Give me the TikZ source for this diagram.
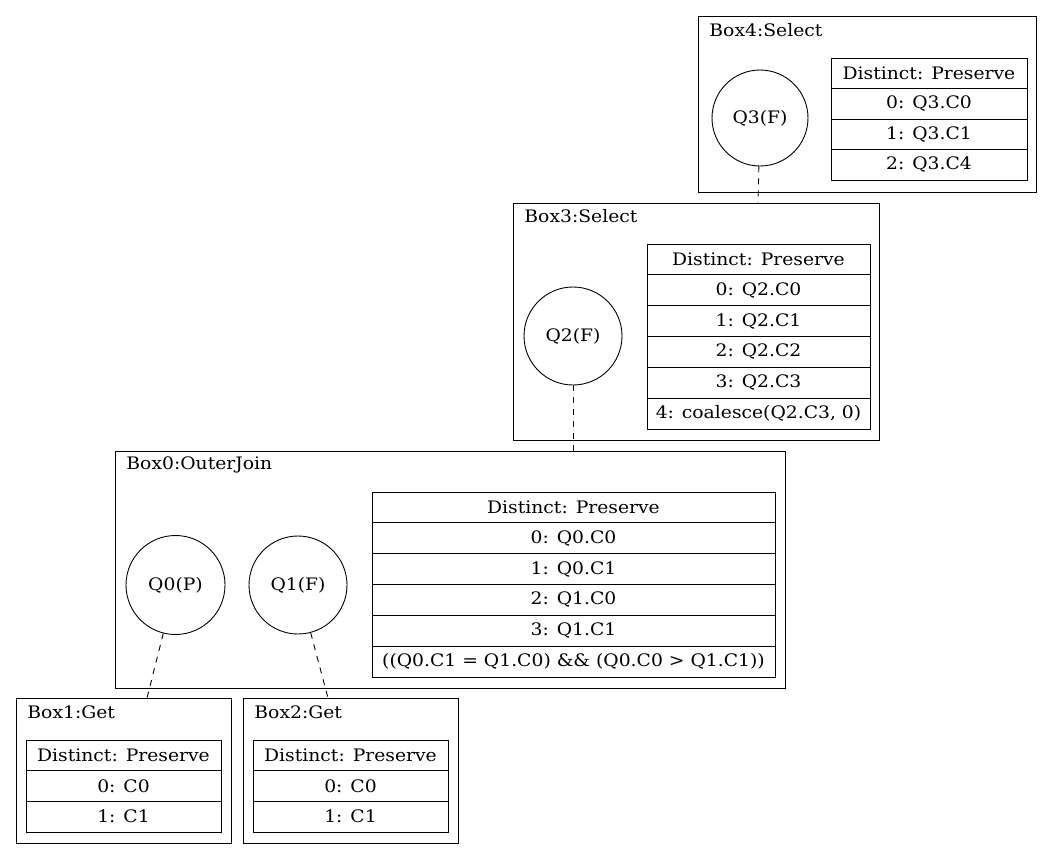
\documentclass[tikz,border=0pt]{standalone}
\usepackage{fontspec}
\setmainfont{DejaVu Serif}[FakeStretch=1.09]
\begin{document}
\begin{tikzpicture}[x=1pt,y=-1pt,
  font=\fontsize{17.2}{20}\selectfont,
  every node/.style={line width=0.9pt},
  cluster/.style n args={2}{draw, rectangle, inner sep=0pt, minimum width=#1, minimum height=#2},
  qnode/.style={draw, circle, inner sep=0pt, minimum size=#1},
  row/.style n args={2}{draw, rectangle, inner sep=0pt, minimum width=#1, minimum height=#2},
  lbl/.style={anchor=west, inner sep=0pt},
  link/.style={line width=0.9pt, dash pattern=on 6pt off 6pt}]
\useasboundingbox (0,0) rectangle (1053,860);

% clusters
\node[cluster={338pt}{176pt}] (box4) at (867,104) {};
\node[cluster={366pt}{237pt}] (box3) at (696,321.5) {};
\node[cluster={670pt}{237pt}] (box0) at (450,569.5) {};
\node[cluster={215pt}{145pt}] (box1) at (123.5,770.5) {};
\node[cluster={215pt}{145pt}] (box2) at (350.5,770.5) {};

% labels
\node[lbl] (l4) at (709,30) {Box4:Select};
\node[lbl] (l3) at (524,216) {Box3:Select};
\node[lbl] (l0) at (126,465) {Box0:OuterJoin};
\node[lbl] (l1) at (27,712) {Box1:Get};
\node[lbl] (l2) at (254,712) {Box2:Get};

% quantifiers
\node[qnode=96pt] (q3) at (760,118) {Q3(F)};
\node[qnode=98pt] (q2) at (573,336) {Q2(F)};
\node[qnode=99pt] (q0) at (175.5,585) {Q0(P)};
\node[qnode=98pt] (q1) at (298,585) {Q1(F)};

% table box4
\node[row={196pt}{30.5pt}] (t4a) at (929,73.25) {Distinct: Preserve};
\node[row={196pt}{30.5pt}] (t4b) at (929,103.75) {0: Q3.C0};
\node[row={196pt}{30.5pt}] (t4c) at (929,134.25) {1: Q3.C1};
\node[row={196pt}{30.5pt}] (t4d) at (929,164.75) {2: Q3.C4};

% table box3
\node[row={223pt}{30.83pt}] (t3a) at (758.5,259.4) {Distinct: Preserve};
\node[row={223pt}{30.83pt}] (t3b) at (758.5,290.25) {0: Q2.C0};
\node[row={223pt}{30.83pt}] (t3c) at (758.5,321.1) {1: Q2.C1};
\node[row={223pt}{30.83pt}] (t3d) at (758.5,351.9) {2: Q2.C2};
\node[row={223pt}{30.83pt}] (t3e) at (758.5,382.75) {3: Q2.C3};
\node[row={223pt}{30.83pt}] (t3f) at (758.5,413.6) {4: coalesce(Q2.C3, 0)};

% table box0
\node[row={403pt}{30.83pt}] (t0a) at (573.5,507.4) {Distinct: Preserve};
\node[row={403pt}{30.83pt}] (t0b) at (573.5,538.25) {0: Q0.C0};
\node[row={403pt}{30.83pt}] (t0c) at (573.5,569.1) {1: Q0.C1};
\node[row={403pt}{30.83pt}] (t0d) at (573.5,599.9) {2: Q1.C0};
\node[row={403pt}{30.83pt}] (t0e) at (573.5,630.75) {3: Q1.C1};
\node[row={403pt}{30.83pt}] (t0f) at (573.5,661.6) {((Q0.C1 = Q1.C0) \&\& (Q0.C0 > Q1.C1))};

% table box1
\node[row={195pt}{30.67pt}] (t1a) at (123.5,755.3) {Distinct: Preserve};
\node[row={195pt}{30.67pt}] (t1b) at (123.5,786) {0: C0};
\node[row={195pt}{30.67pt}] (t1c) at (123.5,816.7) {1: C1};

% table box2
\node[row={195pt}{30.67pt}] (t2a) at (350.5,755.3) {Distinct: Preserve};
\node[row={195pt}{30.67pt}] (t2b) at (350.5,786) {0: C0};
\node[row={195pt}{30.67pt}] (t2c) at (350.5,816.7) {1: C1};

% edge end points on cluster tops
\coordinate (e43) at (758,203);
\coordinate (e30) at (573,451);
\coordinate (e01) at (147,698);
\coordinate (e12) at (328,698);

\draw[link] (q3) -- (e43);
\draw[link] (q2) -- (e30);
\draw[link] (q0) -- (e01);
\draw[link] (q1) -- (e12);
\end{tikzpicture}
\end{document}
